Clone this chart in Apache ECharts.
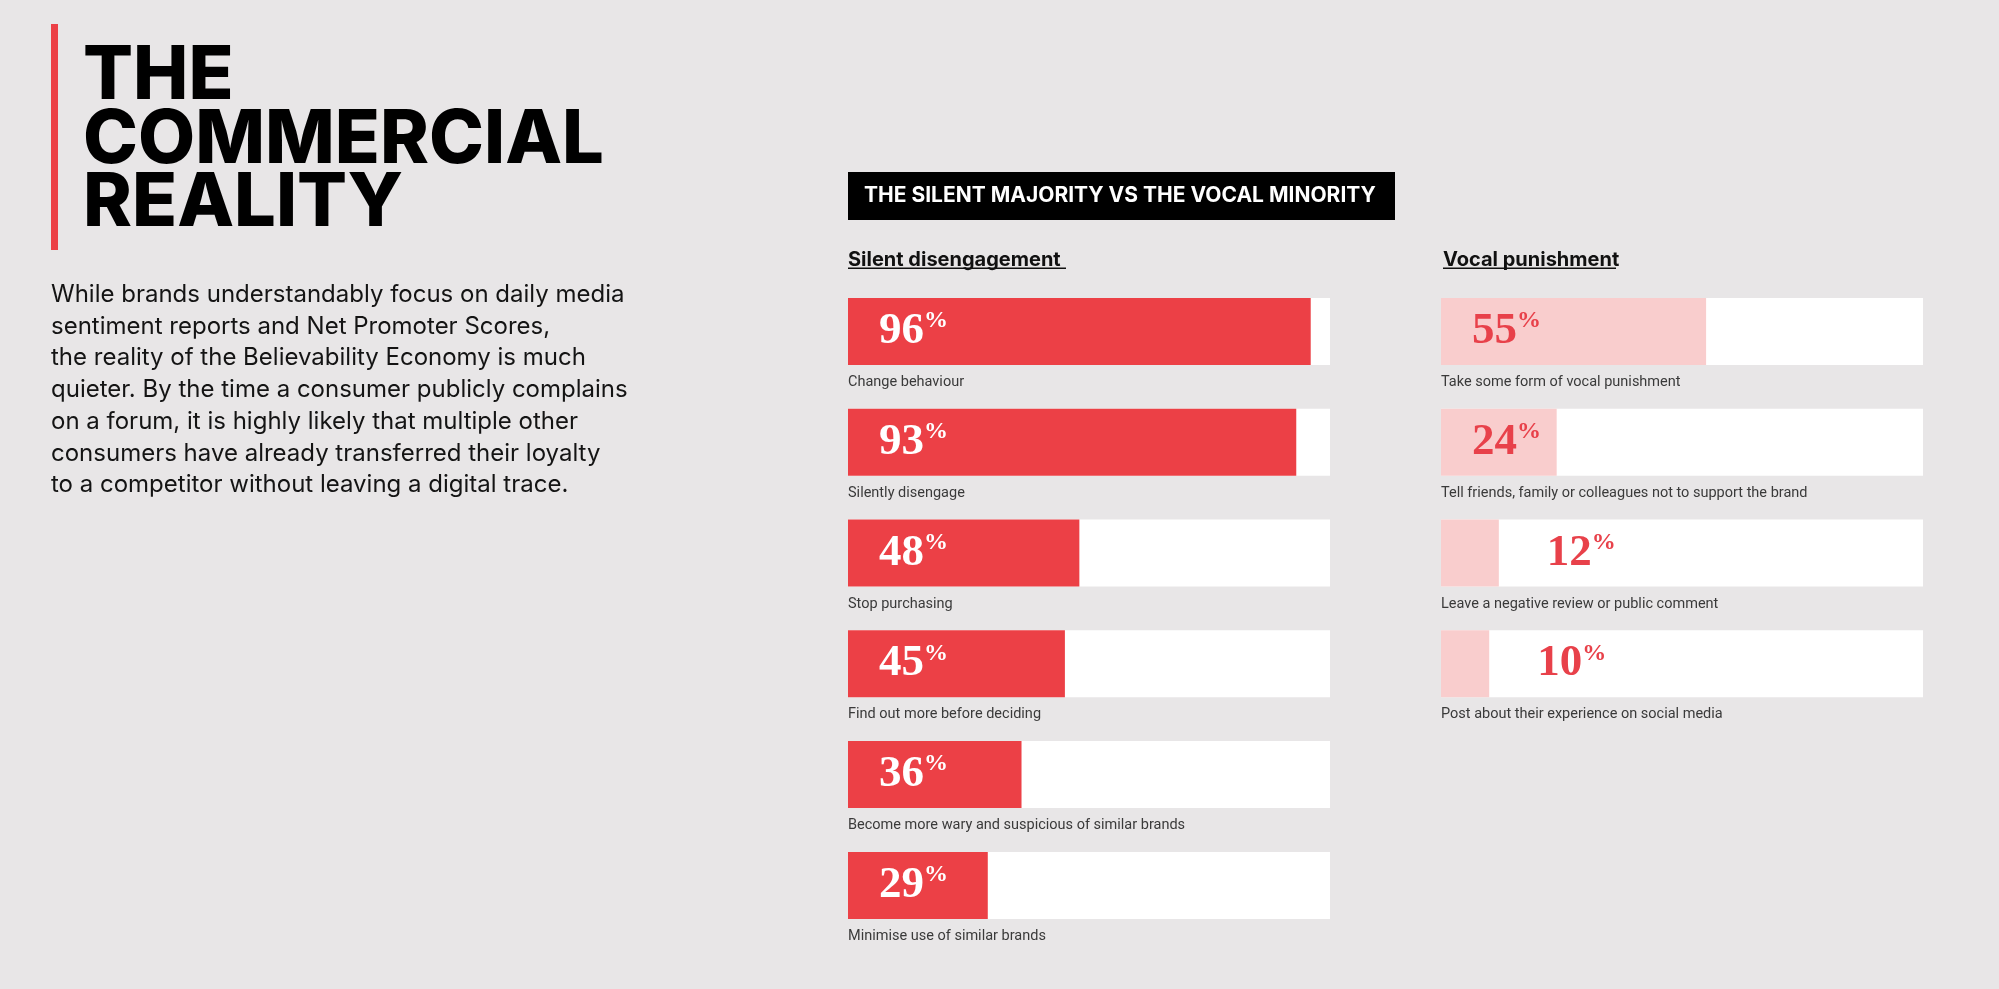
<!DOCTYPE html>
<html>
<head>
<meta charset="utf-8">
<script src="https://cdn.jsdelivr.net/npm/echarts@6/dist/echarts.min.js"></script>
<style>
  html, body { margin: 0; padding: 0; background: #e8e6e7; }
  #chart { width: 1999px; height: 989px; }
</style>
</head>
<body>
<div id="chart"></div>
<script>
// data
const silentCategories = [
  "Change behaviour",
  "Silently disengage",
  "Stop purchasing",
  "Find out more before deciding",
  "Become more wary and suspicious of similar brands",
  "Minimise use of similar brands",
];
const silentValues = [96, 93, 48, 45, 36, 29];

const vocalCategories = [
  "Take some form of vocal punishment",
  "Tell friends, family or colleagues not to support the brand",
  "Leave a negative review or public comment",
  "Post about their experience on social media",
];
const vocalValues = [55, 24, 12, 10];

const RED = "#ec4046";
const PINK = "#f9cdcd";
const PINK_TEXT = "#e8414a";
const BG = "#e8e6e7";

const band = 110.8;
const gridTop = 276;

function numberRich(color) {
  return {
    n: { fontFamily: "Liberation Serif", fontWeight: "bold", fontSize: 45, lineHeight: 45, color: color },
    p: { fontFamily: "Liberation Serif", fontWeight: "bold", fontSize: 24, lineHeight: 30, verticalAlign: "top", color: color },
  };
}

function catAxis(gridIndex, cats) {
  return {
    type: "category",
    gridIndex: gridIndex,
    data: cats,
    inverse: true,
    axisLine: { show: false },
    axisTick: { show: false },
    splitLine: { show: false },
    axisLabel: {
      show: true,
      inside: true,
      margin: 0,
      interval: 0,
      hideOverlap: false,
      align: "left",
      verticalAlign: "top",
      padding: [43.5, 0, 0, 0],
      fontFamily: "Roboto",
      fontSize: 14.5,
      color: "#3a3a3a",
    },
  };
}

function valAxis(gridIndex) {
  return { type: "value", gridIndex: gridIndex, min: 0, max: 100, show: false };
}

var myChart = echarts.init(document.getElementById("chart"), null, { renderer: "canvas" });

var option = {
  backgroundColor: BG,
  animation: false,
  grid: [
    { left: 848, top: gridTop, width: 482, height: band * silentValues.length },
    { left: 1441, top: gridTop, width: 482, height: band * vocalValues.length },
  ],
  xAxis: [valAxis(0), valAxis(1)],
  yAxis: [catAxis(0, silentCategories), catAxis(1, vocalCategories)],
  series: [
    {
      type: "bar",
      xAxisIndex: 0,
      yAxisIndex: 0,
      data: silentValues,
      barWidth: 67,
      itemStyle: { color: RED },
      showBackground: true,
      backgroundStyle: { color: "#ffffff" },
      label: {
        show: true,
        position: "insideLeft",
        distance: 31,
        formatter: (p) => "{n|" + p.value + "}{p|%}",
        rich: numberRich("#ffffff"),
      },
    },
    {
      type: "bar",
      xAxisIndex: 1,
      yAxisIndex: 1,
      barWidth: 67,
      itemStyle: { color: PINK },
      showBackground: true,
      backgroundStyle: { color: "#ffffff" },
      // short bars get their number placed just after the bar end
      data: vocalValues.map((v) =>
        v < 20
          ? { value: v, label: { position: "right", distance: 48 } }
          : { value: v }
      ),
      label: {
        show: true,
        position: "insideLeft",
        distance: 31,
        formatter: (p) => "{n|" + p.value + "}{p|%}",
        rich: numberRich(PINK_TEXT),
      },
    },
  ],
  graphic: [
    { type: "rect", shape: { x: 51, y: 24, width: 7, height: 226 }, style: { fill: RED } },
    {
      type: "text",
      x: 83,
      y: 45,
      style: {
        text: "THE\nCOMMERCIAL\nREALITY",
        font: "800 74px Inter",
        lineHeight: 63.5,
        fill: "#000000",
        verticalAlign: "top",
      },
    },
    {
      type: "text",
      x: 51,
      y: 279,
      style: {
        text:
          "While brands understandably focus on daily media\n" +
          "sentiment reports and Net Promoter Scores,\n" +
          "the reality of the Believability Economy is much\n" +
          "quieter. By the time a consumer publicly complains\n" +
          "on a forum, it is highly likely that multiple other\n" +
          "consumers have already transferred their loyalty\n" +
          "to a competitor without leaving a digital trace.",
        font: "24px Inter",
        lineHeight: 31.7,
        fill: "#141414",
        verticalAlign: "top",
      },
    },
    { type: "rect", shape: { x: 848, y: 172, width: 547, height: 48 }, style: { fill: "#000000" } },
    {
      type: "text",
      x: 864,
      y: 196,
      style: {
        text: "THE SILENT MAJORITY VS THE VOCAL MINORITY",
        font: "bold 21px Inter",
        fill: "#ffffff",
        verticalAlign: "middle",
      },
    },
    {
      type: "text",
      x: 848,
      y: 260,
      style: { text: "Silent disengagement", font: "bold 20px Inter", fill: "#111111", verticalAlign: "middle" },
    },
    { type: "rect", shape: { x: 848, y: 267.5, width: 218, height: 1.5 }, style: { fill: "#111111" } },
    {
      type: "text",
      x: 1443,
      y: 260,
      style: { text: "Vocal punishment", font: "bold 20px Inter", fill: "#111111", verticalAlign: "middle" },
    },
    { type: "rect", shape: { x: 1443, y: 267.5, width: 173, height: 1.5 }, style: { fill: "#111111" } },
  ],
};

myChart.setOption(option);
window.addEventListener("resize", myChart.resize);
</script>
</body>
</html>
